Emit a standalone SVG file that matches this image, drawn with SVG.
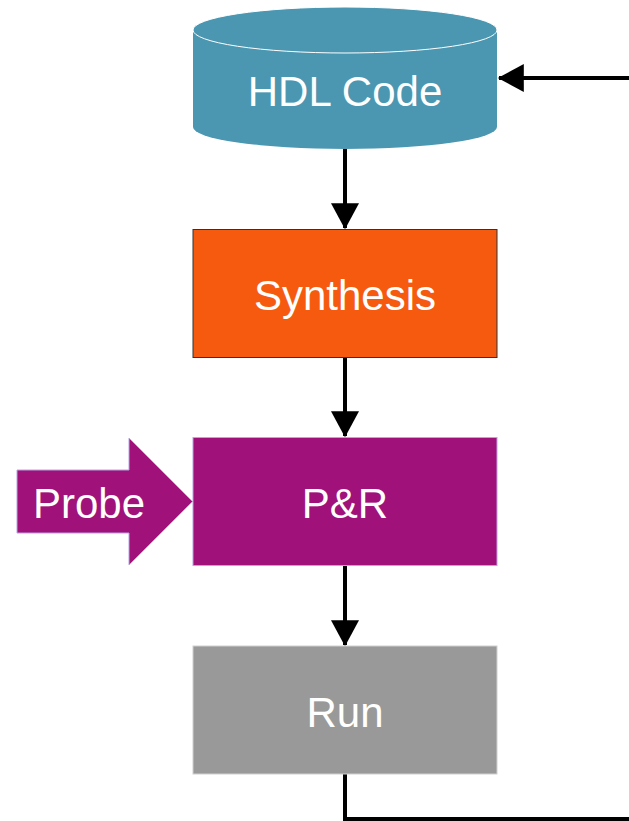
<svg xmlns="http://www.w3.org/2000/svg" width="629" height="821" viewBox="0 0 629 821">
<defs>
<marker id="ah" markerWidth="7" markerHeight="7" refX="6.2" refY="3.5" orient="auto" markerUnits="strokeWidth">
<path d="M0,0 L6.5,3.5 L0,7 Z" fill="#000"/>
</marker>
<style>
.lbl{font-family:"Liberation Sans",Arial,sans-serif;font-size:42px;fill:#fff;text-anchor:middle}
.con{stroke:#000;stroke-width:4;fill:none}
</style>
</defs>
<rect width="629" height="821" fill="#fff"/>
<g id="connectors">
<line class="con" x1="345" y1="149" x2="345" y2="228" marker-end="url(#ah)"/>
<line class="con" x1="345" y1="357" x2="345" y2="436" marker-end="url(#ah)"/>
<line class="con" x1="345" y1="566" x2="345" y2="645" marker-end="url(#ah)"/>
<polyline class="con" points="345,774 345,819 629,819" stroke-width="3"/>
<line class="con" x1="629" y1="78" x2="499" y2="78" marker-end="url(#ah)"/>
</g>
<g id="hdl">
<path d="M193,30 L193,127 A152,22 0 0 0 497,127 L497,30 Z" fill="#4B97B1"/>
<ellipse cx="345" cy="30" rx="152" ry="23" fill="#4B97B1" stroke="#fff" stroke-width="1"/>
<text class="lbl" x="345" y="106">HDL Code</text>
</g>
<g id="synthesis">
<rect x="193" y="229.5" width="304" height="128" fill="#F65A0F" stroke="#333" stroke-width="1"/>
<text class="lbl" x="345" y="310">Synthesis</text>
</g>
<g id="pr">
<rect x="193" y="437.5" width="304" height="128" fill="#A1117A" stroke="#B7A4E0" stroke-width="1"/>
<text class="lbl" x="345" y="518">P&amp;R</text>
</g>
<g id="probe">
<polygon points="17,470 129,470 129,438 192.5,501.5 129,565 129,533 17,533" fill="#A1117A" stroke="#B7A4E0" stroke-width="1"/>
<text class="lbl" x="89" y="518">Probe</text>
</g>
<g id="run">
<rect x="193" y="646" width="304" height="128" fill="#999999" stroke="#d0d0d0" stroke-width="1"/>
<text class="lbl" x="345" y="727">Run</text>
</g>
</svg>
